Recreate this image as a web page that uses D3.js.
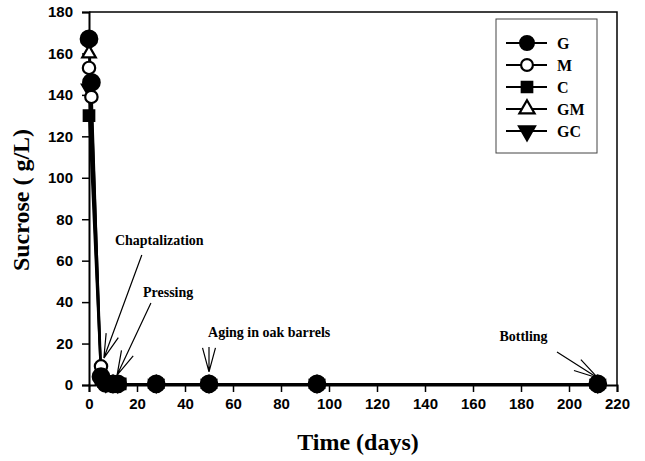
<!DOCTYPE html>
<html>
<head>
<meta charset="utf-8">
<script src="https://cdn.jsdelivr.net/npm/d3@7"></script>
<style>
  body { margin: 0; background: #fff; }
  .tick text { font-family: "Liberation Sans", Arial, sans-serif; font-weight: bold; font-size: 15px; fill: #000; }
  .lbl { font-family: "Liberation Serif", "Times New Roman", serif; font-weight: bold; fill: #000; }
</style>
</head>
<body>
<div id="chart"></div>
<script>
const svgWidth = 645;
const svgHeight = 461;

const chartMargin = { top: 12, right: 28, bottom: 76, left: 89 };
const width = svgWidth - chartMargin.left - chartMargin.right;
const height = svgHeight - chartMargin.top - chartMargin.bottom;

// data (days, g/L)
const seriesNames = ["G", "M", "C", "GM", "GC"];
const gDays = [0, 1, 5, 7, 10, 12, 28, 50, 95, 212];
const gVals = [167, 146, 4, 0.8, 0.6, 0.5, 0.5, 0.5, 0.5, 0.5];
const mDays = [0, 1, 5, 8, 12, 28, 50, 95, 212];
const mVals = [153, 139, 9, 1, 0.6, 0.5, 0.5, 0.5, 0.5];
const cDays = [0, 5, 7, 10, 13, 28, 50, 95, 212];
const cVals = [130, 3, 1, 0.6, 0.5, 0.5, 0.5, 0.5, 0.5];
const gmDays = [0, 5, 7, 10, 12, 28, 50, 95, 212];
const gmVals = [160, 6, 1, 0.6, 0.5, 0.5, 0.5, 0.5, 0.5];
const gcDays = [0, 5, 7, 10, 12, 28, 50, 95, 212];
const gcVals = [143, 2, 0.8, 0.6, 0.5, 0.5, 0.5, 0.5, 0.5];

const xTicks = [0, 20, 40, 60, 80, 100, 120, 140, 160, 180, 200, 220];
const yTicks = [0, 20, 40, 60, 80, 100, 120, 140, 160, 180];

// annotation text + arrow (in data units)
const notes = [
  { text: "Chaptalization", tx: 10.8, ty: 67.5, from: [22, 62.7], tip: [6.2, 13] },
  { text: "Pressing", tx: 22.5, ty: 42.5, from: [25.8, 39.6], tip: [11.7, 4.8] },
  { text: "Aging in oak barrels", tx: 49.6, ty: 23.2, from: [50, 18.3], tip: [50, 6.3] },
  { text: "Bottling", tx: 171, ty: 21.2, from: [195, 15.9], tip: [212, 3.4] }
];

const series = [
  { name: "G", days: gDays, vals: gVals, shape: d3.symbolCircle, fill: "#000", size: 215 },
  { name: "M", days: mDays, vals: mVals, shape: d3.symbolCircle, fill: "#fff", size: 120 },
  { name: "C", days: cDays, vals: cVals, shape: d3.symbolSquare, fill: "#000", size: 110 },
  { name: "GM", days: gmDays, vals: gmVals, shape: d3.symbolTriangle, fill: "#fff", size: 80 },
  { name: "GC", days: gcDays, vals: gcVals, shape: d3.symbolTriangle, fill: "#000", size: 85, flip: true }
];

const svg = d3.select("#chart")
  .append("svg")
  .attr("width", svgWidth)
  .attr("height", svgHeight);

const chartGroup = svg.append("g")
  .attr("transform", `translate(${chartMargin.left}, ${chartMargin.top})`);

const xScale = d3.scaleLinear().domain([0, 220]).range([0, width]);
const yScale = d3.scaleLinear().domain([0, 180]).range([height, 0]);

// frame (top and right)
chartGroup.append("path")
  .attr("d", `M0,0H${width}V${height}`)
  .attr("fill", "none")
  .attr("stroke", "#000")
  .attr("stroke-width", 1.5);

const bottomAxis = d3.axisBottom(xScale).tickValues(xTicks).tickSize(7).tickPadding(6);
const leftAxis = d3.axisLeft(yScale).tickValues(yTicks).tickSize(7).tickPadding(9);

const xAxis = chartGroup.append("g")
  .attr("transform", `translate(0, ${height})`)
  .call(bottomAxis);
const yAxis = chartGroup.append("g").call(leftAxis);

[xAxis, yAxis].forEach(ax => {
  ax.select(".domain").attr("stroke", "#000").attr("stroke-width", 2);
  ax.selectAll(".tick line").attr("stroke", "#000").attr("stroke-width", 1.5);
});

// series lines
const line = d3.line().x(d => xScale(d[0])).y(d => yScale(d[1]));
series.forEach(s => {
  chartGroup.append("path")
    .datum(s.days.map((d, i) => [d, s.vals[i]]))
    .attr("d", line)
    .attr("fill", "none")
    .attr("stroke", "#000")
    .attr("stroke-width", 2);
});

function symbolPath(s, size) {
  return d3.symbol().type(s.shape).size(size || s.size)();
}

// markers, drawn last-to-first so G sits on top
series.slice().reverse().forEach(s => {
  chartGroup.append("g").selectAll("path")
    .data(s.days.map((d, i) => [d, s.vals[i]]))
    .enter()
    .append("path")
    .attr("d", symbolPath(s))
    .attr("transform", d => `translate(${xScale(d[0])}, ${yScale(d[1])})` + (s.flip ? " rotate(180)" : ""))
    .attr("fill", s.fill)
    .attr("stroke", "#000")
    .attr("stroke-width", 2.2);
});

// annotations with open arrowheads
notes.forEach(n => {
  chartGroup.append("text")
    .attr("class", "lbl")
    .attr("x", xScale(n.tx))
    .attr("y", yScale(n.ty))
    .attr("font-size", 14)
    .text(n.text);

  const x1 = xScale(n.from[0]), y1 = yScale(n.from[1]);
  const x2 = xScale(n.tip[0]), y2 = yScale(n.tip[1]);
  const ang = Math.atan2(y1 - y2, x1 - x2);
  const len = 25, spread = 15 * Math.PI / 180;
  let d = `M${x1},${y1}L${x2},${y2}`;
  [-spread, spread].forEach(a => {
    d += `M${x2},${y2}L${x2 + len * Math.cos(ang + a)},${y2 + len * Math.sin(ang + a)}`;
  });
  chartGroup.append("path")
    .attr("d", d)
    .attr("fill", "none")
    .attr("stroke", "#000")
    .attr("stroke-width", 1.2);
});

// legend
const legend = svg.append("g").attr("transform", "translate(496, 19)");
legend.append("rect")
  .attr("width", 101)
  .attr("height", 134)
  .attr("fill", "#fff")
  .attr("stroke", "#444")
  .attr("stroke-width", 1);

const legendSize = { G: 150, M: 110, C: 110, GM: 100, GC: 110 };
series.forEach((s, i) => {
  const row = legend.append("g").attr("transform", `translate(0, ${24 + i * 22})`);
  row.append("line")
    .attr("x1", 10).attr("x2", 51)
    .attr("stroke", "#000").attr("stroke-width", 2);
  row.append("path")
    .attr("d", symbolPath(s, legendSize[s.name]))
    .attr("transform", "translate(31, 0)" + (s.flip ? " rotate(180)" : ""))
    .attr("fill", s.fill)
    .attr("stroke", "#000")
    .attr("stroke-width", 2.2);
  row.append("text")
    .attr("class", "lbl")
    .attr("x", 61)
    .attr("y", 6)
    .attr("font-size", 16)
    .text(s.name);
});

// axis titles
svg.append("text")
  .attr("class", "lbl")
  .attr("x", 358)
  .attr("y", 450)
  .attr("text-anchor", "middle")
  .attr("font-size", 24)
  .text("Time (days)");

svg.append("text")
  .attr("class", "lbl")
  .attr("transform", "translate(29, 200) rotate(-90)")
  .attr("text-anchor", "middle")
  .attr("font-size", 24)
  .text("Sucrose ( g/L)");
</script>
</body>
</html>
